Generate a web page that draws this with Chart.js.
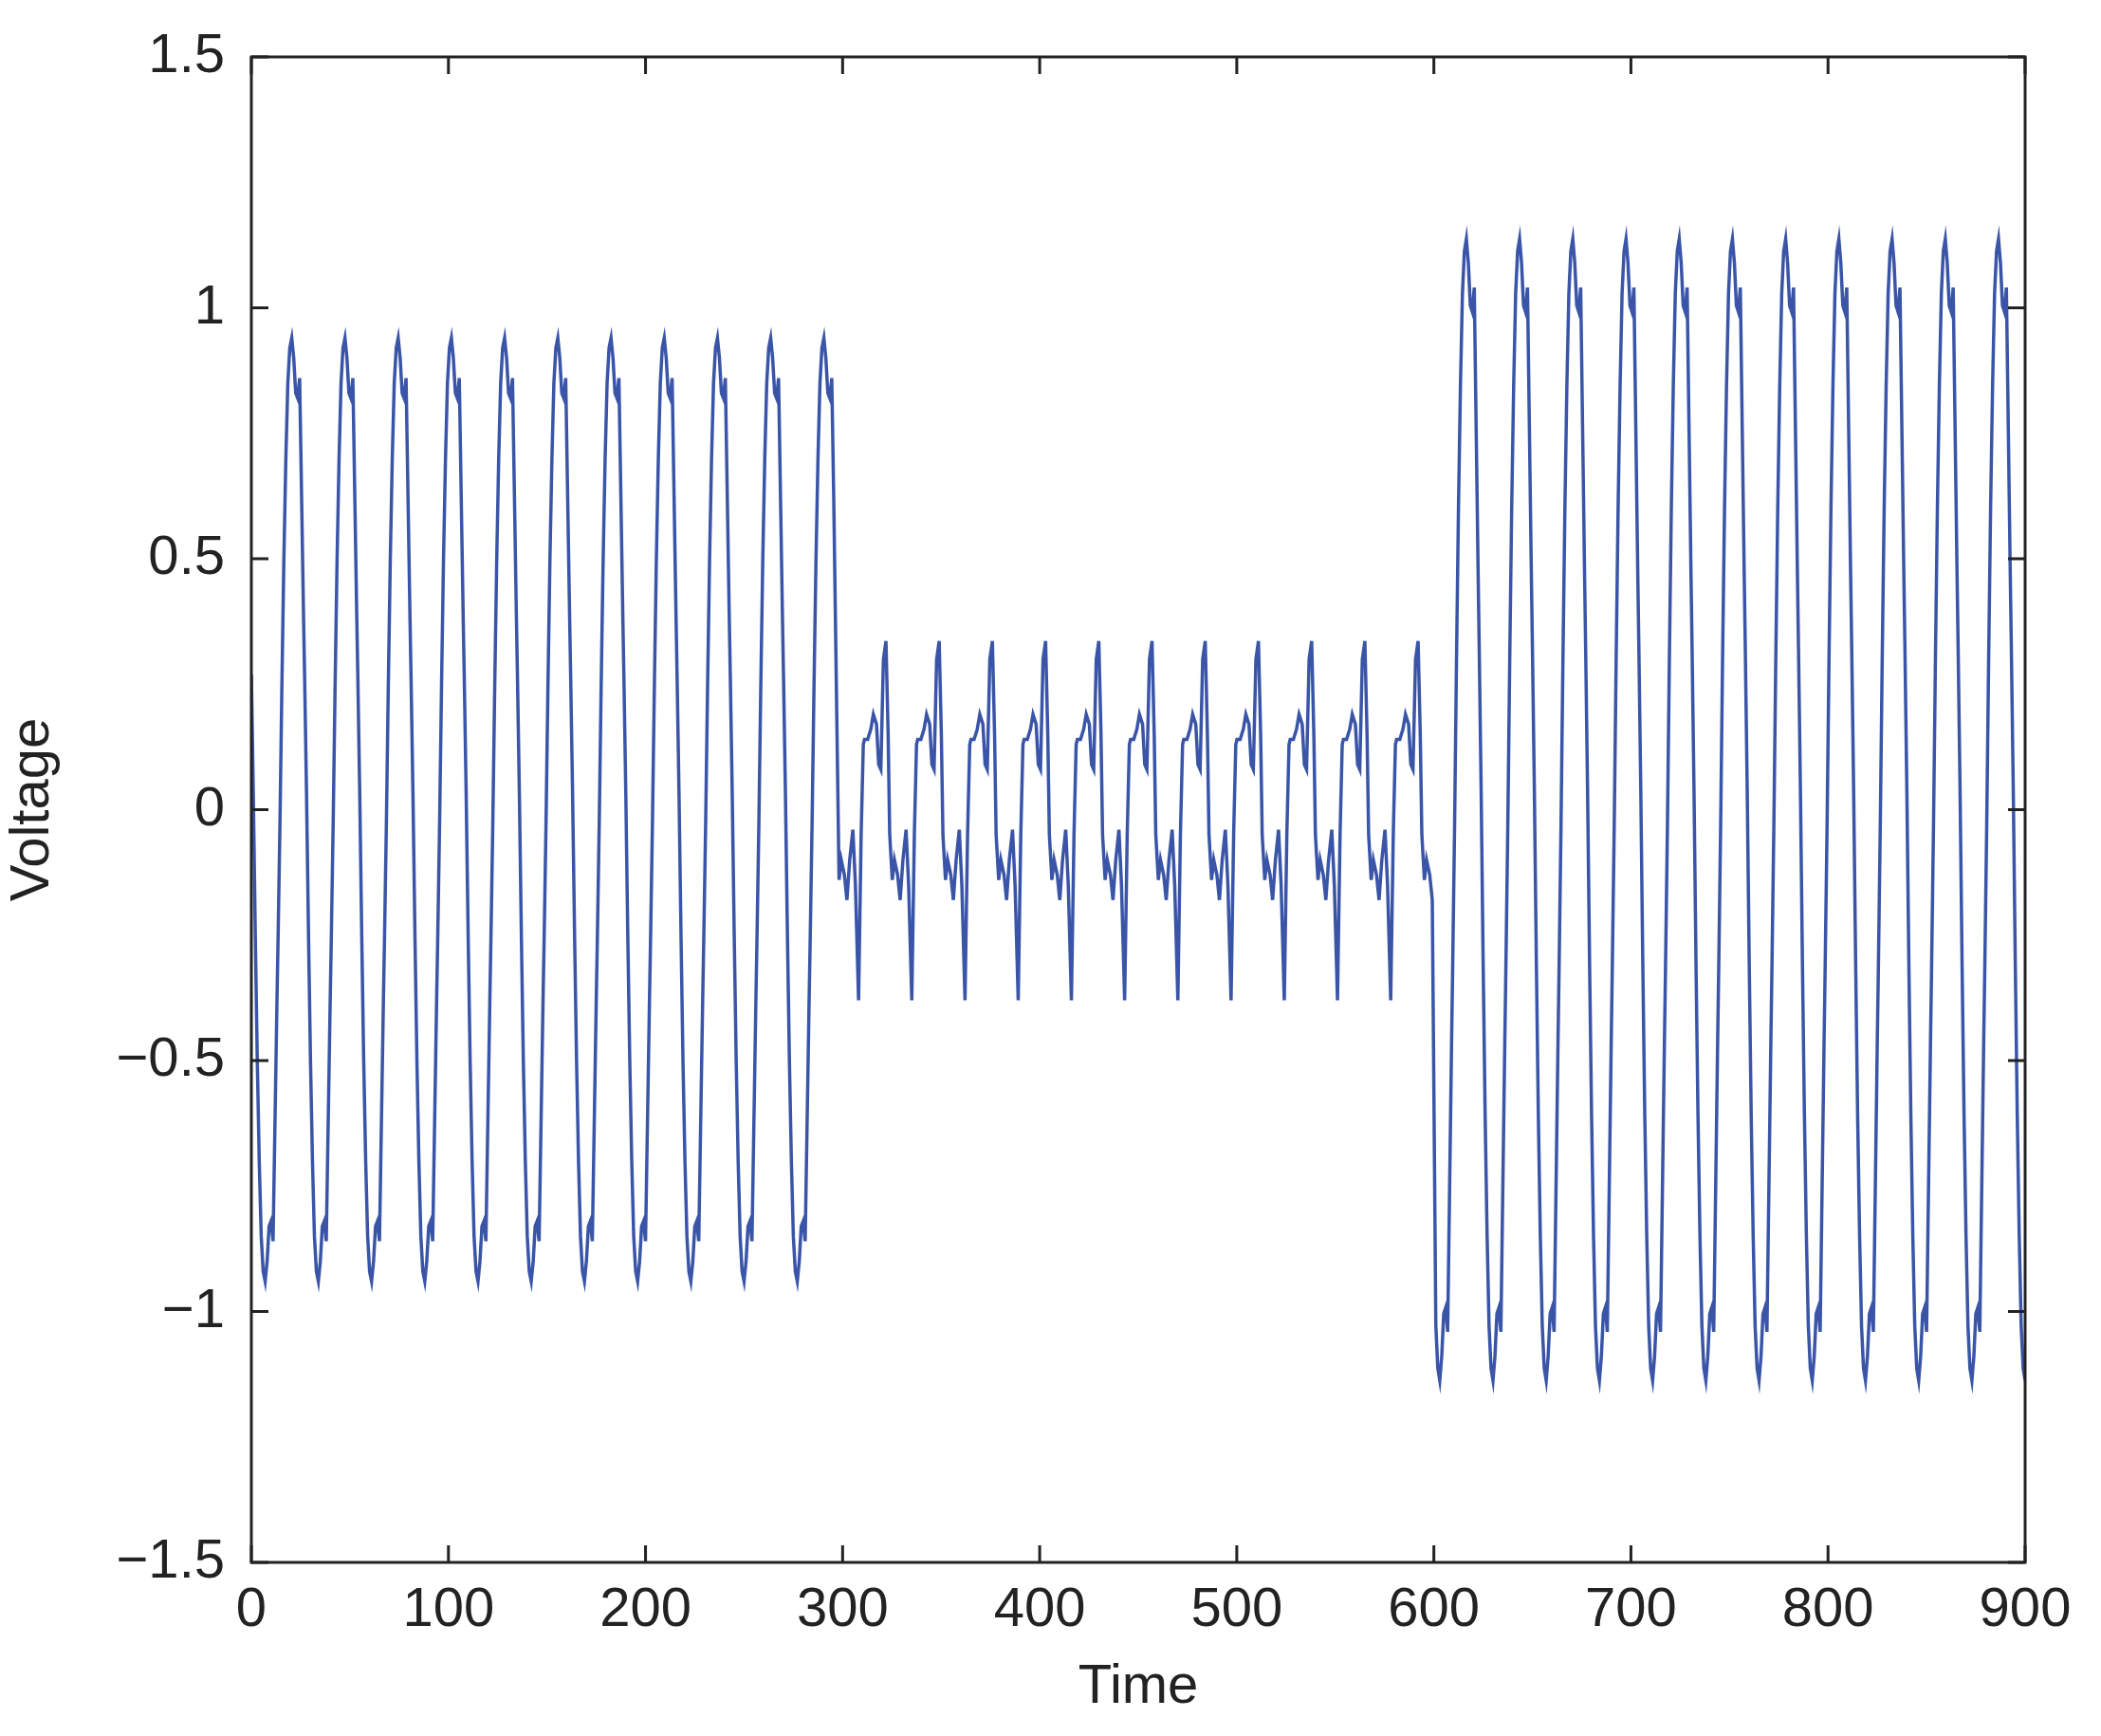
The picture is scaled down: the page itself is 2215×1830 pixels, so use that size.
<!DOCTYPE html>
<html><head><meta charset="utf-8">
<script src="https://cdn.jsdelivr.net/npm/chart.js@4"></script>
<style>html,body{margin:0;padding:0;background:#fff}#wrap{width:2215px;height:1830px}</style>
</head><body><div id="wrap"><canvas id="c" width="2215" height="1830"></canvas></div>
<script>
// Section 1 / 3 half-cycle shape (second half is the negation), offsets in time units
const halfOffsets = [0,1,2,3,4,5,6,7,8,9,10,11,12,13];
const halfValues  = [0.27,0.03,-0.25,-0.5,-0.7,-0.85,-0.92,-0.94,-0.9,-0.83,-0.82,-0.86,-0.62,-0.38];
// Middle section cycle shape, offsets from the upward spike
const midOffsets = [0,1.1,1.9,3.2,4.3,5.9,7.2,8.6,10.2,11.5,13.1,14.4,15.5,16.1,17.7,19.3,20.6,22.2,23.3,24.4,25.7];
const midValues  = [0.336,0.15,-0.05,-0.14,-0.10,-0.13,-0.18,-0.10,-0.04,-0.15,-0.38,-0.05,0.13,0.14,0.14,0.16,0.19,0.17,0.09,0.08,0.30];
const period = 27;
const sec1 = {start:0, from:0, to:296, scale:1.0};
const sec2 = {start:295, from:297, to:599.5};
const sec3 = {start:596, from:600.5, to:900, scale:1.21};
const xTicks = [0,100,200,300,400,500,600,700,800,900];
const yTicks = [-1.5,-1,-0.5,0,0.5,1,1.5];

const pts = [];
function addOsc(s){
  for(let k=-1;k<14;k++){
    const base = s.start + k*period;
    for(let h=0;h<2;h++){
      for(let i=0;i<halfOffsets.length;i++){
        const x = base + h*period/2 + halfOffsets[i];
        const y = (h? -halfValues[i] : halfValues[i]) * s.scale;
        if(x>=s.from && x<=s.to) pts.push({x,y});
      }
    }
  }
}
function addMid(s){
  for(let k=0;k<13;k++){
    const base = s.start + k*period;
    for(let i=0;i<midOffsets.length;i++){
      const x = base + midOffsets[i];
      if(x>=s.from && x<=s.to) pts.push({x,y:midValues[i]});
    }
  }
}
addOsc(sec1); addMid(sec2); addOsc(sec3);
pts.sort((a,b)=>a.x-b.x);

const fmt = v => (v<0?'\u2212':'') + Math.abs(v);
const frame = {
  id:'frame',
  afterDraw(c){
    const {ctx, chartArea:a, scales:{x,y}} = c;
    ctx.save(); ctx.strokeStyle='#222'; ctx.lineWidth=3;
    ctx.strokeRect(a.left,a.top,a.right-a.left,a.bottom-a.top);
    const L=18;
    ctx.beginPath();
    xTicks.forEach(t=>{const p=x.getPixelForValue(t);ctx.moveTo(p,a.bottom);ctx.lineTo(p,a.bottom-L);ctx.moveTo(p,a.top);ctx.lineTo(p,a.top+L);});
    yTicks.forEach(t=>{const p=y.getPixelForValue(t);ctx.moveTo(a.left,p);ctx.lineTo(a.left+L,p);ctx.moveTo(a.right,p);ctx.lineTo(a.right-L,p);});
    ctx.stroke(); ctx.restore();
  }
};
const font = {family:'"Liberation Sans", Arial, sans-serif', size:58};
new Chart(document.getElementById('c'),{
  type:'scatter',
  data:{datasets:[{data:pts, showLine:true, borderColor:'#3a55a8', borderWidth:3.5, pointRadius:0, tension:0}]},
  options:{
    responsive:false, animation:false, devicePixelRatio:1,
    layout:{padding:{top:60,right:80,left:0,bottom:0}},
    plugins:{legend:{display:false},tooltip:{enabled:false}},
    scales:{
      x:{type:'linear',min:0,max:900,
        afterBuildTicks(s){s.ticks=xTicks.map(v=>({value:v}));},
        afterFit(s){s.height=183;},
        grid:{display:false}, border:{display:false},
        ticks:{font, color:'#222', padding:8, maxRotation:0, callback:v=>fmt(v)},
        title:{display:true,text:'Time',font,color:'#222',padding:{top:0,bottom:16}}},
      y:{min:-1.5,max:1.5,
        afterBuildTicks(s){s.ticks=yTicks.map(v=>({value:v}));},
        afterFit(s){s.width=265;},
        grid:{display:false}, border:{display:false},
        ticks:{font, color:'#222', padding:20, callback:v=>fmt(v)},
        title:{display:true,text:'Voltage',font,color:'#222',padding:{top:0,bottom:20}}}
    }
  },
  plugins:[frame]
});
</script></body></html>
